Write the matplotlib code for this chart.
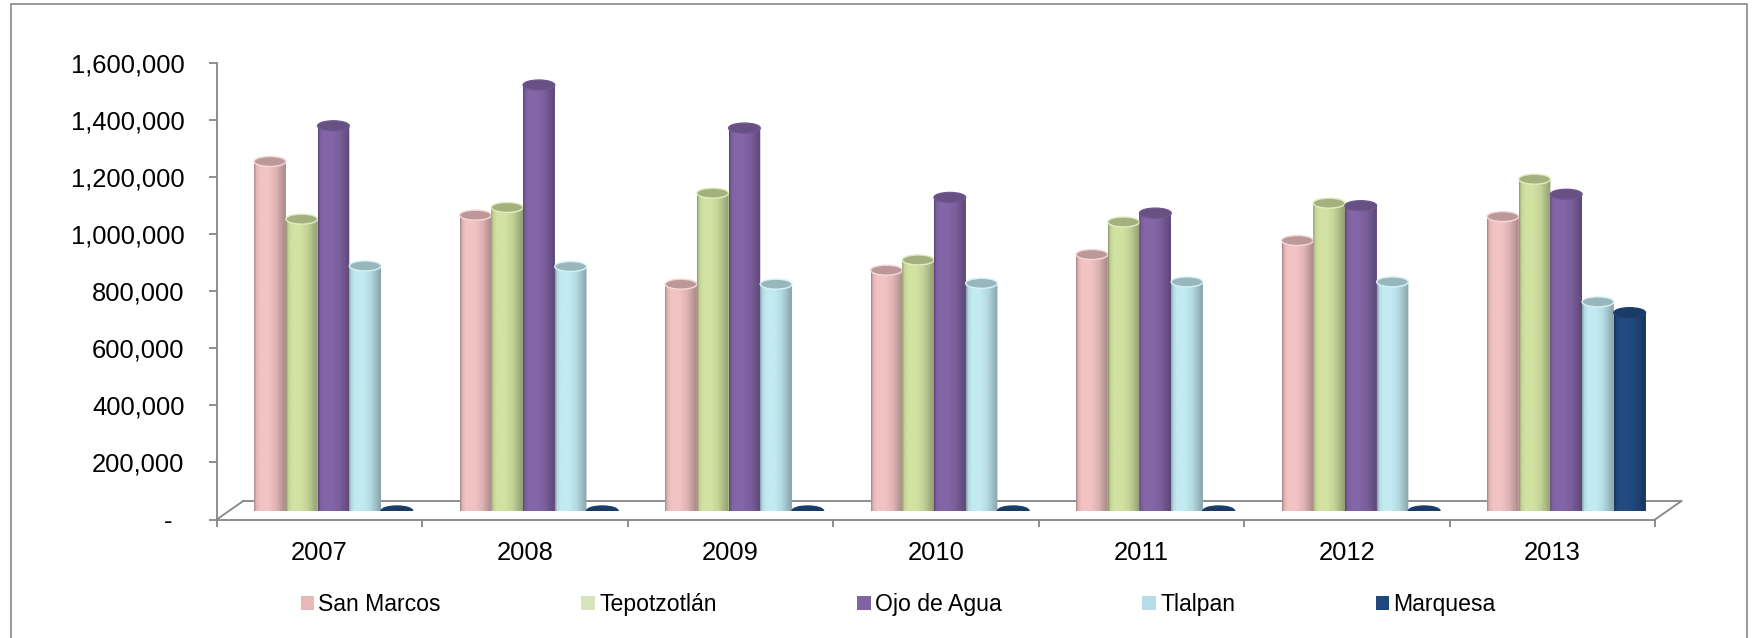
import numpy as np
import matplotlib
matplotlib.use('Agg')
import matplotlib.pyplot as plt
from matplotlib.patches import Ellipse, Rectangle, PathPatch
from matplotlib.path import Path
from matplotlib.lines import Line2D
from matplotlib.transforms import ScaledTranslation, blended_transform_factory
from matplotlib.colors import to_rgb
import matplotlib.ticker as mticker

plt.rcParams['font.family'] = ['Liberation Sans', 'DejaVu Sans']

# ---------------- data ----------------
years = ['2007', '2008', '2009', '2010', '2011', '2012', '2013']
series_names = ['San Marcos', 'Tepotzotlán', 'Ojo de Agua', 'Tlalpan', 'Marquesa']
san_marcos = [1225000, 1037000, 795000, 844000, 899000, 948000, 1032000]
tepotzotlan = [1023000, 1064000, 1114000, 880000, 1013000, 1079000, 1163000]
ojo_de_agua = [1350000, 1493000, 1342000, 1099000, 1044000, 1070000, 1110000]
tlalpan = [859000, 857000, 795000, 798000, 803000, 803000, 733000]
marquesa = [0, 0, 0, 0, 0, 0, 695000]
y_ticks = [0, 200000, 400000, 600000, 800000, 1000000, 1200000, 1400000, 1600000]

legend_colors = ['#E6B9B8', '#D7E4BD', '#8064A2', '#B7DEE8', '#1F497D']
body_colors = ['#F2C3C3', '#D2E2A2', '#8466A8', '#C2EAF2', '#214B82']

series = [san_marcos, tepotzotlan, ojo_de_agua, tlalpan, marquesa]

# ---------------- figure ----------------
W, H, DPI = 1758, 638, 100
fig = plt.figure(figsize=(W / DPI, H / DPI), dpi=DPI)
fig.patch.set_facecolor('white')


def px_rect(left, top, right, bottom):
    return [left / W, 1 - bottom / H, (right - left) / W, (bottom - top) / H]


AX_L, AX_T, AX_R, AX_B = 216.7, 63.0, 1655.0, 519.5
DX, DY = 14.0, 8.5          # bar plane shift (half depth)
FDX, FDY = 26.5, 18.5        # full floor depth

ax = fig.add_axes(px_rect(AX_L, AX_T, AX_R, AX_B))
ax2 = fig.add_axes(px_rect(AX_L + DX, AX_T - DY, AX_R + DX, AX_B - DY))

YMAX = 1600000
for a in (ax, ax2):
    a.set_xlim(0, len(years))
    a.set_ylim(0, YMAX)
    a.patch.set_visible(False)

gray = '#868686'
# front axes styling
for s in ['top', 'right']:
    ax.spines[s].set_visible(False)
for s in ['left', 'bottom']:
    ax.spines[s].set_color(gray)
    ax.spines[s].set_linewidth(1.3)

ax.set_yticks(y_ticks)
ax.yaxis.set_major_formatter(mticker.FuncFormatter(
    lambda v, p: '' if v == 0 else f'{int(round(v)):,}'))
ax.tick_params(axis='y', direction='out', length=5.8, width=1.3, color=gray,
               labelsize=18.4, pad=17.3, labelcolor='black')

ax.set_xticks(np.arange(0, len(years) + 1))
ax.set_xticklabels([])
ax.set_xticks(np.arange(len(years)) + 0.5, minor=True)
ax.set_xticklabels(years, minor=True)
ax.tick_params(axis='x', which='major', direction='out', length=5.0, width=1.3, color=gray)
ax.tick_params(axis='x', which='minor', length=0, labelsize=18.4, pad=15.6)

# "-" for zero (accounting style)
dash_tr = blended_transform_factory(ax.transAxes, ax.transData) + \
    ScaledTranslation(-(AX_L - 168) / DPI, 0, fig.dpi_scale_trans)
ax.text(0, 0, '-', transform=dash_tr, ha='center', va='center_baseline',
        fontsize=18.4, color='black')

# floor (3D base)
ax_w_px = AX_R - AX_L
ax_h_px = AX_B - AX_T
fx, fy = FDX / ax_w_px, FDY / ax_h_px
floor_kw = dict(color=gray, lw=1.3, transform=ax.transAxes, clip_on=False)
ax.add_line(Line2D([0, fx], [0, fy], **floor_kw))
ax.add_line(Line2D([fx, 1 + fx], [fy, fy], **floor_kw))
ax.add_line(Line2D([1, 1 + fx], [0, fy], **floor_kw))

# ---------------- cylinders ----------------
ax2.axis('off')
bw = 31.7 / (ax_w_px / len(years))
e_data = 10.0 * YMAX / ax_h_px

prof_t = np.array([0.0, 0.06, 0.18, 0.45, 0.68, 0.86, 1.0])
prof_f = np.array([0.66, 0.92, 1.0, 1.0, 0.93, 0.80, 0.70])
tt = np.linspace(0, 1, 80)
ff = np.interp(tt, prof_t, prof_f)

x_idx = np.arange(len(years))
k = 0
for j, (vals, col) in enumerate(zip(series, body_colors)):
    rgb = np.array(to_rgb(col))
    xs = x_idx + 0.5 + (j - 2) * bw
    bars = ax2.bar(xs, vals, width=bw, color=col, linewidth=0, zorder=1)
    grad = np.clip(rgb[None, :] * ff[:, None], 0, 1)
    img = np.tile(grad[None, :, :], (2, 1, 1))
    cap_col = np.clip(rgb * 0.78, 0, 1)
    rim_col = rgb + (1 - rgb) * 0.35
    if j in (2, 4):
        rim_col = np.clip(rgb * 0.85, 0, 1)
    for rect in bars.patches:
        x0 = rect.get_x()
        w = rect.get_width()
        h = rect.get_height()
        x1 = x0 + w
        xc = x0 + w / 2
        ang = np.linspace(np.pi, 2 * np.pi, 40)
        ell_pts = np.column_stack([xc + w / 2 * np.cos(ang), e_data / 2 * np.sin(ang)])
        verts = [(x0, h), (x0, 0)] + [tuple(p) for p in ell_pts] + [(x1, 0), (x1, h), (x0, h)]
        codes = [Path.MOVETO] + [Path.LINETO] * (len(verts) - 2) + [Path.CLOSEPOLY]
        clip = PathPatch(Path(verts, codes), transform=ax2.transData)
        im = ax2.imshow(img, extent=(x0, x1, -e_data / 2, h), aspect='auto',
                        interpolation='bilinear', zorder=2 + k * 0.01)
        im.set_clip_path(clip)
        cap = Ellipse((xc, h), w, e_data, facecolor=cap_col, edgecolor=rim_col,
                      lw=1.0, zorder=2 + k * 0.01 + 0.005)
        ax2.add_patch(cap)
        k += 1

ax2.set_xlim(0, len(years))
ax2.set_ylim(0, YMAX)

# ---------------- legend ----------------
handles = [Rectangle((0, 0), 1, 1, facecolor=c, edgecolor='none') for c in legend_colors]
fig.legend(handles, series_names, ncol=5, loc='center left',
           bbox_to_anchor=(300.7 / W, 1 - 604.5 / H), frameon=False, fontsize=16.6,
           handlelength=0.576, handleheight=0.576, handletextpad=0.19,
           columnspacing=6.1, borderpad=0, borderaxespad=0)

# outer border (bottom edge runs off the image, as in the original)
fig.add_artist(Rectangle((11 / W, -4 / H), (1747 - 11) / W, (644 - 6) / H,
                         transform=fig.transFigure, fill=False, edgecolor='#898989', lw=1.2))

fig.savefig('out.png', dpi=DPI, facecolor='white')
